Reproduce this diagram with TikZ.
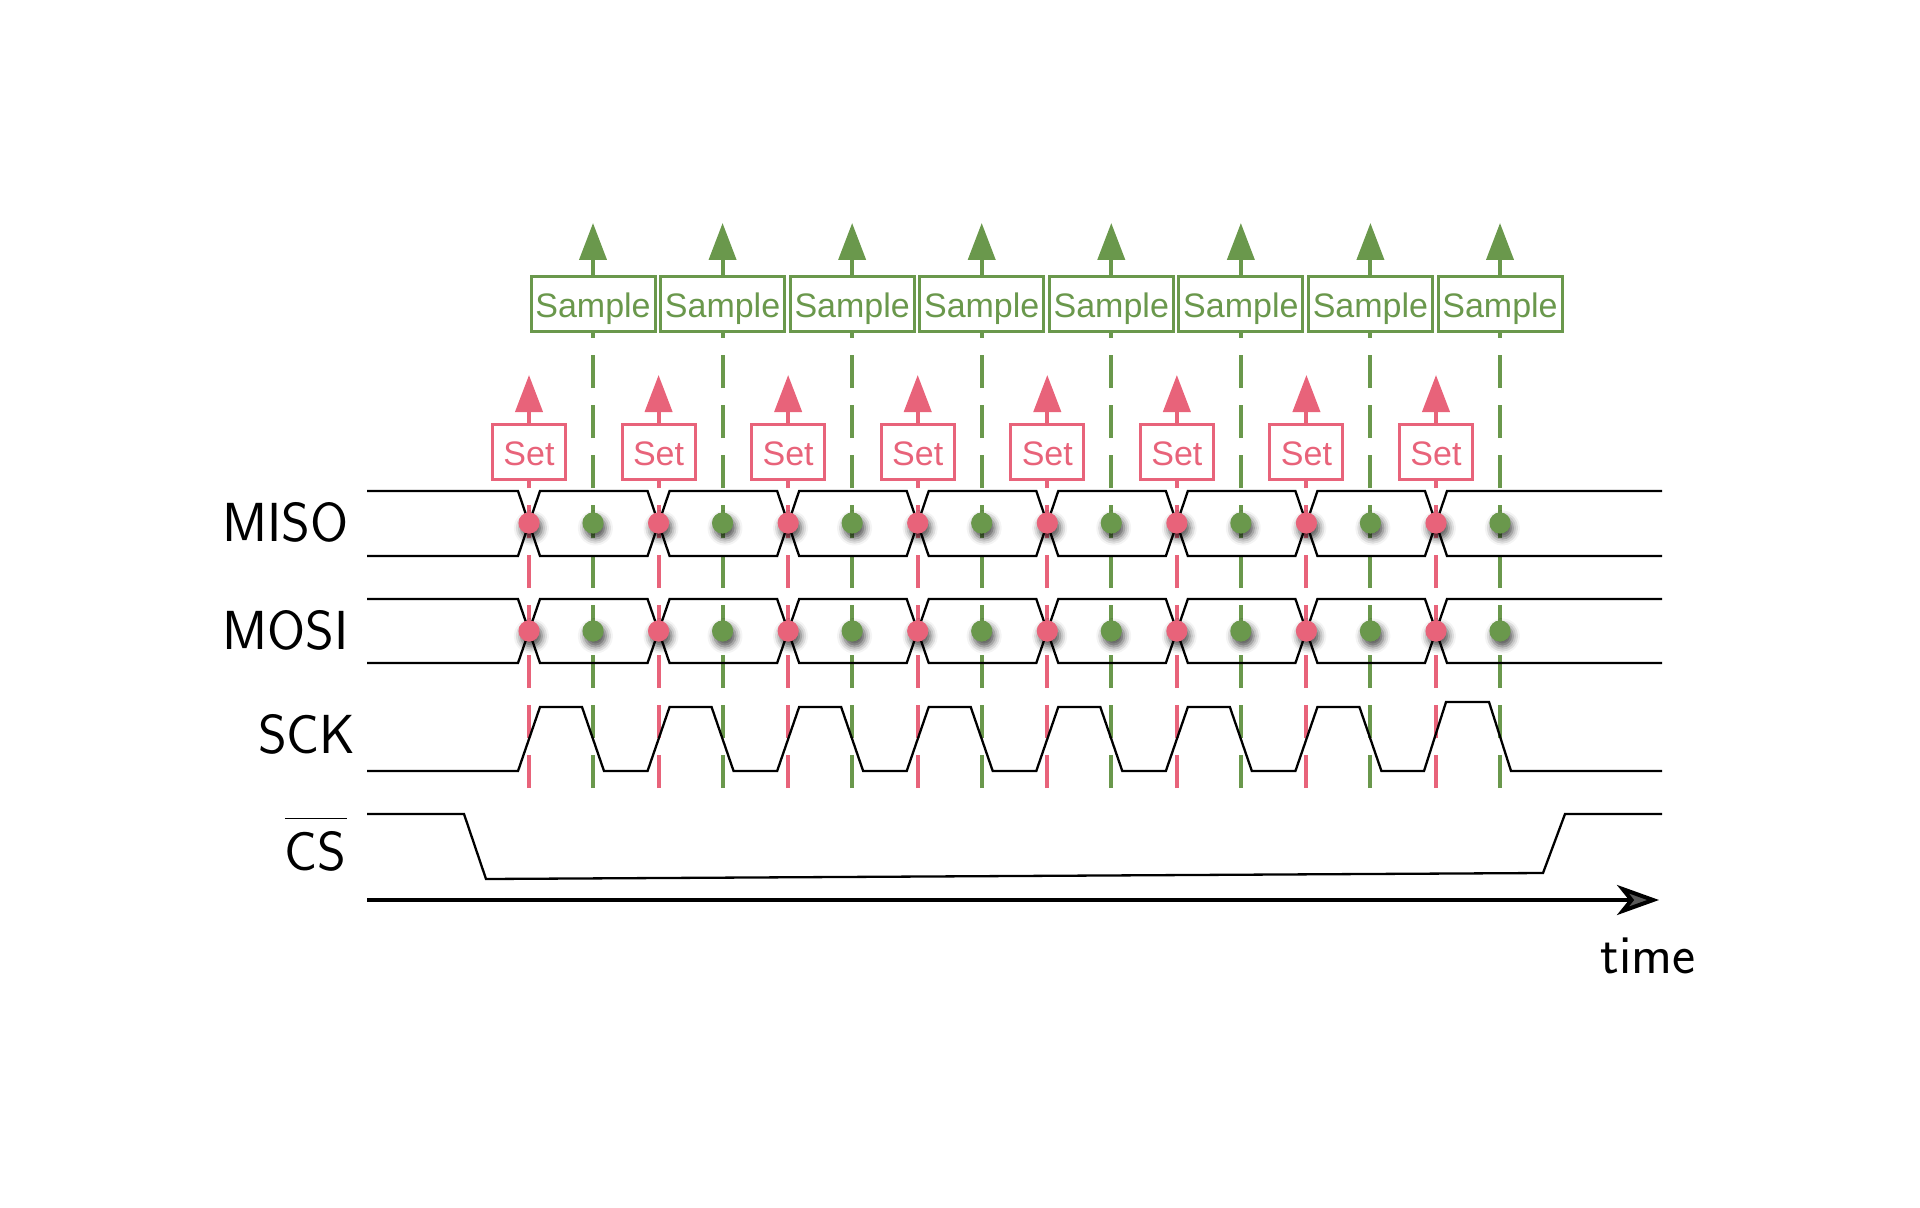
\documentclass[tikz,border=0pt]{standalone}
\usepackage{fontspec}
\newfontfamily\boxfont{Liberation Sans}
\usetikzlibrary{arrows.meta,shadows.blur}
\definecolor{setred}{RGB}{232,99,122}
\definecolor{smpgreen}{RGB}{106,152,76}
\begin{document}
\begin{tikzpicture}[x=0.5pt,y=-0.5pt,
  sig/.style={line width=1.15pt, line join=miter, black},
  boxtext/.style={font=\boxfont\fontsize{17}{20}\selectfont, inner sep=0pt, text height=13.5pt, text depth=0pt, fill=white, line width=1.5pt},
  setbox/.style={boxtext, draw=setred, text=setred, minimum width=36.5pt, minimum height=27.5pt},
  smpbox/.style={boxtext, draw=smpgreen, text=smpgreen, minimum width=62pt, minimum height=27.5pt},
  reddash/.style={setred, line width=2pt, dash pattern=on 16.5pt off 8.5pt},
  greendash/.style={smpgreen, line width=2pt, dash pattern=on 16.5pt off 8.5pt},
  redarrow/.style={setred, line width=2pt, -{Triangle[length=18.5pt,width=13.5pt]}},
  greenarrow/.style={smpgreen, line width=2pt, -{Triangle[length=18.5pt,width=13.5pt]}},
  lbl/.style={font=\sffamily\fontsize{27.5}{31}\selectfont, inner sep=0pt, anchor=base east},
  dotshadow/.style={blur shadow={shadow xshift=1.2pt, shadow yshift=-2.5pt, shadow blur radius=3.5pt, shadow opacity=70}}
]
\useasboundingbox (0,0) rectangle (1920,1208);

% boxes, arrows and dashed guide lines
\foreach \i in {0,...,7} {
  \pgfmathsetmacro\sx{529+129.57*\i}
  \pgfmathsetmacro\gx{593+129.57*\i}
  \node[setbox] (set\i) at (\sx,452) {Set};
  \node[smpbox] (smp\i) at (\gx,304) {Sample};
  \coordinate (settip\i) at (\sx,375);
  \coordinate (smptip\i) at (\gx,223);
  \coordinate (setbot\i) at (\sx,788);
  \coordinate (smpbot\i) at (\gx,788);
  \draw[redarrow] (set\i.north) -- (settip\i);
  \draw[greenarrow] (smp\i.north) -- (smptip\i);
  \draw[reddash] (setbot\i) -- (set\i.south);
  \draw[greendash] (smpbot\i) -- (smp\i.south);
}

% MISO
\draw[sig] (367,491) foreach \i in {0,2,4,6} { -- ({529+129.57*\i-11},491) -- ({529+129.57*\i+11},556) -- ({529+129.57*(\i+1)-11},556) -- ({529+129.57*(\i+1)+11},491) } -- (1662,491);
\draw[sig] (367,556) foreach \i in {0,2,4,6} { -- ({529+129.57*\i-11},556) -- ({529+129.57*\i+11},491) -- ({529+129.57*(\i+1)-11},491) -- ({529+129.57*(\i+1)+11},556) } -- (1662,556);
% MOSI
\draw[sig] (367,599) foreach \i in {0,2,4,6} { -- ({529+129.57*\i-11},599) -- ({529+129.57*\i+11},663) -- ({529+129.57*(\i+1)-11},663) -- ({529+129.57*(\i+1)+11},599) } -- (1662,599);
\draw[sig] (367,663) foreach \i in {0,2,4,6} { -- ({529+129.57*\i-11},663) -- ({529+129.57*\i+11},599) -- ({529+129.57*(\i+1)-11},599) -- ({529+129.57*(\i+1)+11},663) } -- (1662,663);
% SCK
\draw[sig] (367,771) foreach \i in {0,...,6} { -- ({529+129.57*\i-11},771) -- ({529+129.57*\i+11},707) -- ({593+129.57*\i-11},707) -- ({593+129.57*\i+11},771) } -- (1424,771) -- (1446,702) -- (1489,702) -- (1511,771) -- (1662,771);
% CS
\draw[sig] (367,814) -- (464,814) -- (486,879) -- (1543,873) -- (1565,814) -- (1662,814);

% dots
\foreach \i in {0,...,7} {
  \pgfmathsetmacro\sx{529+129.57*\i}
  \pgfmathsetmacro\gx{593+129.57*\i}
  \fill[setred, dotshadow] (\sx,523) circle[radius=5.3pt];
  \fill[setred, dotshadow] (\sx,631) circle[radius=5.3pt];
  \fill[smpgreen, dotshadow] (\gx,523) circle[radius=5.3pt];
  \fill[smpgreen, dotshadow] (\gx,631) circle[radius=5.3pt];
}

% time axis
\coordinate (axs) at (367,900);
\coordinate (axe) at (1659,900);
\draw[line width=2pt, -{Stealth[length=21pt,width=15pt,inset=6pt]}] (axs) -- (axe);
\node[font=\sffamily\fontsize{27.5}{31}\selectfont, inner sep=0pt, anchor=base west] (time) at (1600,973) {time};

% labels
\node[lbl] (miso) at (349,541) {MISO};
\node[lbl] (mosi) at (349,649) {MOSI};
\node[lbl] (sck) at (356,753) {SCK};
\node[lbl] (cs) at (347,870) {$\overline{\mbox{CS}\rule{0pt}{24.5pt}}$};
\end{tikzpicture}
\end{document}
